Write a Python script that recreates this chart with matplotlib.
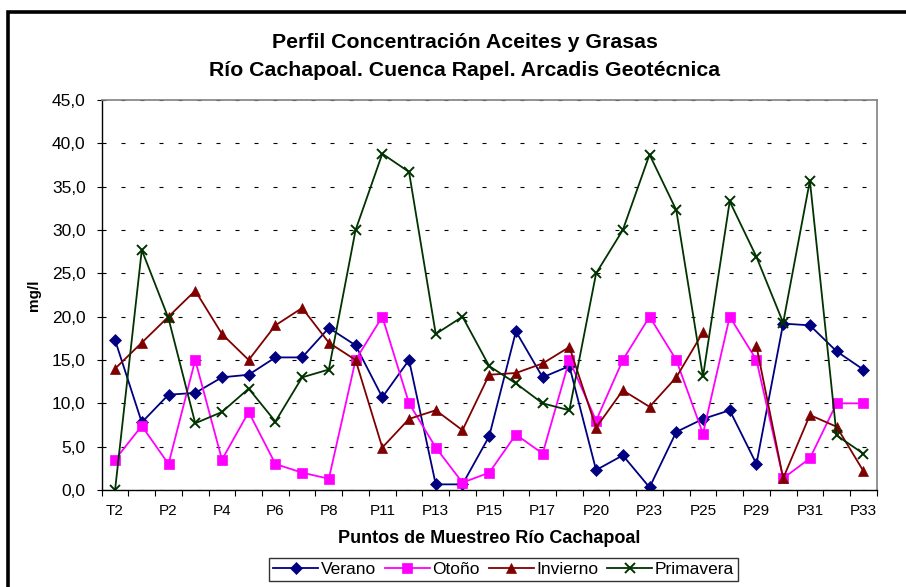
import numpy as np
import matplotlib
matplotlib.use("Agg")
import matplotlib.pyplot as plt
from matplotlib.patches import Rectangle
from matplotlib.ticker import FixedLocator, FuncFormatter

plt.rcParams['font.family'] = ['Liberation Sans', 'DejaVu Sans']

categories = ["T2", "P1", "P2", "P3", "P4", "P5", "P6", "P7", "P8", "P10",
              "P11", "P12", "P13", "P14", "P15", "P16", "P17", "P19", "P20", "P22",
              "P23", "P24", "P25", "P27", "P29", "P30", "P31", "P32", "P33"]

verano = [17.3, 7.8, 11.0, 11.2, 13.0, 13.3, 15.3, 15.3, 18.7, 16.7,
          10.7, 15.0, 0.65, 0.65, 6.2, 18.3, 13.0, 14.3, 2.3, 4.0,
          0.3, 6.7, 8.2, 9.2, 3.0, 19.2, 19.0, 16.0, 13.9]
otono = [3.5, 7.4, 3.0, 15.0, 3.5, 9.0, 3.0, 2.0, 1.3, 15.0,
         20.0, 10.0, 4.9, 0.85, 2.0, 6.4, 4.2, 15.0, 8.0, 15.0,
         20.0, 15.0, 6.5, 20.0, 15.0, 1.35, 3.65, 10.0, 10.0]
invierno = [14.0, 17.0, 20.0, 23.0, 18.0, 15.0, 19.0, 21.0, 17.0, 15.0,
            4.9, 8.2, 9.2, 6.9, 13.3, 13.5, 14.6, 16.5, 7.2, 11.5,
            9.6, 13.0, 18.2, np.nan, 16.6, 1.35, 8.65, 7.3, 2.2]
primavera = [0.0, 27.7, 19.8, 7.7, 9.0, 11.7, 7.9, 13.0, 13.9, 30.0,
             38.8, 36.7, 18.0, 20.0, 14.3, 12.3, 10.0, 9.2, 25.0, 30.0,
             38.7, 32.3, 13.1, 33.3, 26.9, 19.3, 35.7, 6.3, 4.2]

series = [
    ("Verano", verano, "#000080", "D", 6),
    ("Otoño", otono, "#FF00FF", "s", 7),
    ("Invierno", invierno, "#800000", "^", 7.5),
    ("Primavera", primavera, "#003300", "x", 7.5),
]

W, H = 906, 587
fig = plt.figure(figsize=(W / 100, H / 100), dpi=100)

# outer chart border (cropped at right/bottom)
fig.patches.append(Rectangle((8 / W, -0.1), 1.2, 1 - 12 / H + 0.1,
                             transform=fig.transFigure, fill=False,
                             edgecolor="black", linewidth=2.6))

left, right, top, bottom = 101.7, 876.7, 100, 490
ax = fig.add_axes([left / W, 1 - bottom / H, (right - left) / W, (bottom - top) / H])

x = np.arange(len(categories))
for name, vals, color, marker, ms in series:
    kw = dict(markeredgewidth=1.4) if marker == "x" else dict(markeredgewidth=0.5, markeredgecolor=color)
    ax.plot(x, vals, color=color, linewidth=1.3, marker=marker, markersize=ms,
            markerfacecolor=color, label=name, **kw)

ax.set_xlim(-0.5, len(categories) - 0.5)
ax.set_ylim(0, 45)
ax.set_yticks(np.arange(0, 46, 5))
ax.yaxis.set_major_formatter(FuncFormatter(lambda v, p: f"{v:.1f}".replace(".", ",")))
ax.grid(axis="y", color="black", linestyle=(0, (3.6, 13.5)), linewidth=0.8)
ax.set_axisbelow(True)

ax.set_xticks(x[::2])
ax.set_xticklabels(categories[::2])
ax.xaxis.set_minor_locator(FixedLocator(np.arange(-0.5, len(categories), 1.0)))
ax.tick_params(axis="x", which="major", length=0, pad=10, labelsize=11)
ax.tick_params(axis="x", which="minor", length=4, direction="out", width=0.8)
ax.tick_params(axis="y", length=3.5, direction="out", width=0.8, labelsize=12.5, pad=8)

for s in ["top", "right"]:
    ax.spines[s].set_color("#808080")
    ax.spines[s].set_linewidth(1.2)
for s in ["left", "bottom"]:
    ax.spines[s].set_color("black")
    ax.spines[s].set_linewidth(1.0)

ax.set_ylabel("mg/l", fontweight="bold", fontsize=11, labelpad=8)
ax.set_xlabel("Puntos de Muestreo Río Cachapoal", fontweight="bold", fontsize=13, labelpad=9)

fig.text(0.5 * (273 + 657) / W, 1 - 43 / H, "Perfil Concentración Aceites y Grasas",
         ha="center", va="center", fontweight="bold", fontsize=15.3)
fig.text(0.5 * (210 + 720) / W, 1 - 70 / H, "Río Cachapoal. Cuenca Rapel. Arcadis Geotécnica",
         ha="center", va="center", fontweight="bold", fontsize=15.3)

leg = fig.legend(loc="center", bbox_to_anchor=(503.5 / W, 1 - 569.5 / H), ncol=4,
                 frameon=True, fancybox=False, shadow=False, fontsize=12.5,
                 handlelength=2.6, handletextpad=0.15, columnspacing=0.5,
                 borderpad=0.2, borderaxespad=0)
leg.get_frame().set_edgecolor("black")
leg.get_frame().set_linewidth(1.0)

fig.savefig("out.png", dpi=100)
